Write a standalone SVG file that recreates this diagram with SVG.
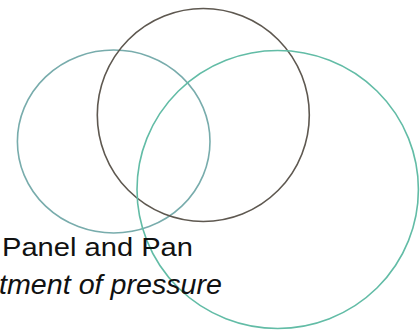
<svg xmlns="http://www.w3.org/2000/svg" width="420" height="332" viewBox="0 0 420 332">
<style>
.c{fill:none;stroke-width:1.6}
.t{font-family:"Liberation Sans",Arial,sans-serif;fill:#111}
</style>
<rect width="420" height="332" fill="#fff"/>
<g id="circle-left"><ellipse class="c" cx="113.7" cy="141.5" rx="96.3" ry="91.5" stroke="#78acac"/></g>
<g id="circle-top"><ellipse class="c" cx="203.3" cy="115" rx="106" ry="106.5" stroke="#5e5850"/></g>
<g id="circle-right"><ellipse class="c" cx="277.7" cy="189.5" rx="140.7" ry="139" stroke="#62bca6"/></g>
<g id="labels">
<text class="t" x="2" y="255.5" font-size="26" textLength="191" lengthAdjust="spacingAndGlyphs">Panel and Pan</text>
<text class="t" x="-1" y="294" font-size="27" font-style="italic" textLength="223" lengthAdjust="spacingAndGlyphs">tment of pressure</text>
</g>
</svg>
